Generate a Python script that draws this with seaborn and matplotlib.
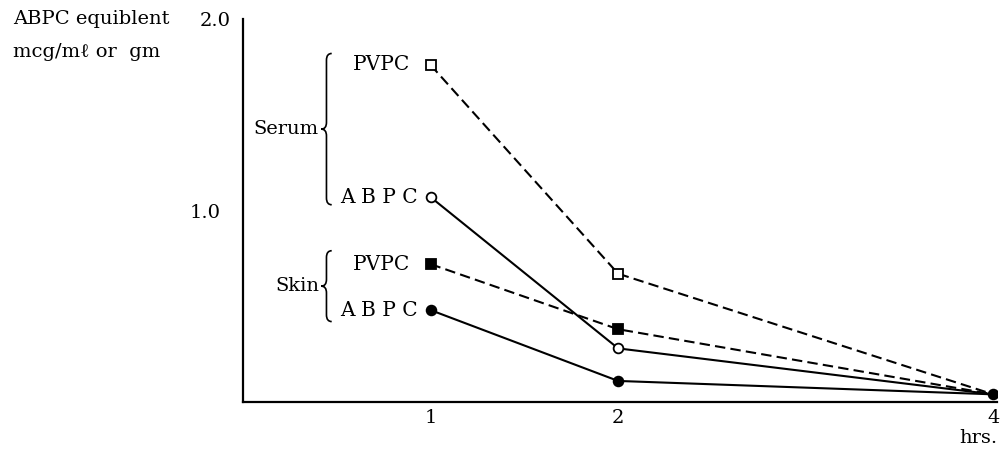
import numpy as np
import pandas as pd
import matplotlib
matplotlib.use("Agg")
import matplotlib.pyplot as plt
from matplotlib.path import Path
from matplotlib.patches import PathPatch
from matplotlib import lines as mlines
import seaborn as sns

# values
hours = [1, 2, 4]
serum_pvpc = [1.76, 0.67, 0.04]
serum_abpc = [1.07, 0.28, 0.04]
skin_pvpc = [0.72, 0.38, 0.04]
skin_abpc = [0.48, 0.11, 0.04]

series = [
    ("Serum", "PVPC", serum_pvpc),
    ("Serum", "ABPC", serum_abpc),
    ("Skin", "PVPC", skin_pvpc),
    ("Skin", "ABPC", skin_abpc),
]

rows = []
for site, drug, vals in series:
    for h, v in zip(hours, vals):
        rows.append({"site": site, "drug": drug, "hrs": h, "value": v})
df = pd.DataFrame(rows)

sns.set_theme(style="white")
plt.rcParams['font.family'] = ['DejaVu Serif', 'Liberation Serif']
plt.rcParams['text.color'] = 'black'

fig = plt.figure(figsize=(10.04, 4.49), dpi=100)
ax = fig.add_axes([243 / 1004, 47 / 449, 754 / 1004, 383 / 449])

for site, drug, vals in series:
    d = df[(df.site == site) & (df.drug == drug)]
    last = (site, drug) == ("Skin", "ABPC")
    sns.lineplot(
        data=d, x="hrs", y="value", ax=ax,
        color="black", linewidth=1.5,
        linestyle=(0, (5, 2.5)) if drug == "PVPC" else "-",
        marker="s" if drug == "PVPC" else "o",
        markersize=7,
        # the shared end point at 4 hrs shows only the skin ABPC dot
        markevery=None if last else [0, 1],
        markerfacecolor="white" if site == "Serum" else "black",
        markeredgecolor="black", markeredgewidth=1.3,
    )

ax.set_xlim(0, 4.02)
ax.set_ylim(0, 2.0)
ax.set_xlabel("")
ax.set_ylabel("")
sns.despine(ax=ax)
for s in ["left", "bottom"]:
    ax.spines[s].set_color("black")
    ax.spines[s].set_linewidth(1.6)

ax.set_xticks(hours)
ax.set_xticklabels([str(h) for h in hours], fontsize=14)
ax.set_yticks([1.0, 2.0])
ax.set_yticklabels(["1.0", "2.0"], fontsize=14)
ax.tick_params(axis="x", direction="in", length=7, width=1.2, colors="black", pad=5)
ax.tick_params(axis="y", direction="out", length=6, width=1.3, colors="black", pad=10)
ax.get_xticklines()[-2].set_visible(False)
# the top tick turns inward, its label sits closer to the axis
top = ax.yaxis.get_major_ticks()[1]
top.tick1line.set_marker(mlines.TICKRIGHT)
top.set_pad(3)

ax.text(4.02, -0.19, "hrs.", fontsize=14, ha="right", va="center",
        clip_on=False)

fig.text(13 / 1004, 1 - 19 / 449, "ABPC equiblent", fontsize=14,
         ha="left", va="center")
fig.text(13 / 1004, 1 - 52 / 449, "mcg/mℓ or  gm", fontsize=14,
         ha="left", va="center")


def brace(ax, x, y0, y1, w=0.028, h=0.035):
    mid = (y0 + y1) / 2
    verts = [
        (x + w, y1), (x, y1), (x, y1 - h),
        (x, mid + h), (x, mid), (x - w, mid),
        (x, mid), (x, mid - h),
        (x, y0 + h), (x, y0), (x + w, y0),
    ]
    codes = [Path.MOVETO, Path.CURVE3, Path.CURVE3,
             Path.LINETO, Path.CURVE3, Path.CURVE3,
             Path.CURVE3, Path.CURVE3,
             Path.LINETO, Path.CURVE3, Path.CURVE3]
    ax.add_patch(PathPatch(Path(verts, codes), fill=False, lw=1.2,
                           edgecolor="black", clip_on=False))
    return mid


m = brace(ax, 0.445, 1.03, 1.82)
ax.text(0.405, m, "Serum", fontsize=14, ha="right", va="center")
m = brace(ax, 0.445, 0.42, 0.79)
ax.text(0.405, m, "Skin", fontsize=14, ha="right", va="center")

label = {"PVPC": "PVPC", "ABPC": "A B P C"}
for site, drug, vals in series:
    xpos = 0.89 if drug == "PVPC" else 0.93
    ax.text(xpos, vals[0], label[drug], fontsize=14.5, ha="right", va="center")

fig.savefig("out.png", dpi=100)
